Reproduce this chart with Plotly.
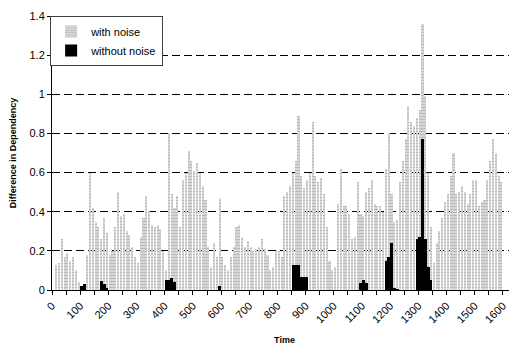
import plotly.graph_objects as go

# Time positions (step 10)
time = list(range(0, 1610, 10))

with_noise = [
    0.00, 0.13, 0.14, 0.26, 0.17, 0.19, 0.15, 0.17, 0.10, 0.04,   # 0-90
    0.02, 0.03, 0.18, 0.60, 0.42, 0.35, 0.32, 0.26, 0.37, 0.29,   # 100-190
    0.18, 0.20, 0.32, 0.50, 0.38, 0.39, 0.30, 0.28, 0.22, 0.17,   # 200-290
    0.14, 0.27, 0.37, 0.48, 0.41, 0.33, 0.32, 0.33, 0.31, 0.20,   # 300-390
    0.10, 0.80, 0.49, 0.42, 0.48, 0.32, 0.56, 0.60, 0.71, 0.66,   # 400-490
    0.61, 0.65, 0.60, 0.53, 0.46, 0.22, 0.12, 0.24, 0.17, 0.47,   # 500-590
    0.17, 0.13, 0.10, 0.17, 0.22, 0.32, 0.33, 0.27, 0.22, 0.25,   # 600-690
    0.22, 0.20, 0.21, 0.22, 0.26, 0.21, 0.18, 0.10, 0.12, 0.20,   # 700-790
    0.20, 0.17, 0.48, 0.50, 0.53, 0.60, 0.66, 0.89, 0.58, 0.52,   # 800-890
    0.56, 0.60, 0.86, 0.58, 0.55, 0.57, 0.49, 0.32, 0.15, 0.10,   # 900-990
    0.12, 0.44, 0.62, 0.43, 0.43, 0.39, 0.26, 0.27, 0.55, 0.39,   # 1000-1090
    0.38, 0.50, 0.52, 0.56, 0.44, 0.43, 0.43, 0.40, 0.62, 0.80,   # 1100-1190
    0.49, 0.35, 0.36, 0.55, 0.66, 0.77, 0.94, 0.86, 0.84, 0.88,   # 1200-1290
    0.92, 1.36, 0.99, 0.60, 0.32, 0.14, 0.24, 0.30, 0.37, 0.45,   # 1300-1390
    0.49, 0.58, 0.70, 0.49, 0.50, 0.53, 0.50, 0.44, 0.49, 0.56,   # 1400-1490
    0.56, 0.43, 0.45, 0.46, 0.56, 0.66, 0.77, 0.70, 0.58, 0.55,   # 1500-1590
    0.00,                                                         # 1600
]

without_noise = [0.0] * len(time)
nonzero = {
    100: 0.02, 110: 0.03,
    170: 0.045, 180: 0.03, 190: 0.01,
    400: 0.05, 410: 0.05, 420: 0.06, 430: 0.04,
    590: 0.02,
    850: 0.13, 860: 0.13, 870: 0.13, 880: 0.065, 890: 0.065, 900: 0.065,
    1090: 0.035, 1100: 0.05, 1110: 0.035,
    1180: 0.15, 1190: 0.17, 1200: 0.24, 1210: 0.01, 1220: 0.005,
    1290: 0.26, 1300: 0.27, 1310: 0.77, 1320: 0.26, 1330: 0.12, 1340: 0.05,
}
for t, v in nonzero.items():
    without_noise[time.index(t)] = v

x_ticks = list(range(0, 1700, 100))
y_ticks = [0, 0.2, 0.4, 0.6, 0.8, 1.0, 1.2, 1.4]

FONT = "Liberation Sans, Arial, sans-serif"

fig = go.Figure()
fig.add_trace(go.Bar(
    x=time, y=with_noise, name="with noise", width=7.5, offset=1,
    marker=dict(color="#c4c4c4", line=dict(width=0),
                pattern=dict(shape="-", fgcolor="#9a9a9a", bgcolor="#dadada",
                             size=3, solidity=0.4)),
))
fig.add_trace(go.Bar(
    x=time, y=without_noise, name="without noise", width=10, offset=0,
    marker=dict(color="black", line=dict(width=0)),
))

# page body has an 8px margin, so the figure is sized 509x337 and offset accordingly
fig.update_layout(
    width=509, height=337,
    margin=dict(l=44, r=0, t=8, b=55),
    barmode="overlay", bargap=0,
    plot_bgcolor="white", paper_bgcolor="white",
    font=dict(family=FONT, size=11, color="black"),
    showlegend=True,
    legend=dict(x=-0.004, y=1, xanchor="left", yanchor="top",
                bgcolor="white", bordercolor="#404040", borderwidth=1,
                font=dict(size=11), tracegroupgap=0, itemwidth=30),
)
fig.update_xaxes(
    range=[0, 1650], tickvals=x_ticks, ticktext=[str(v) for v in x_ticks],
    tickangle=-45, ticks="outside", ticklen=4, tickcolor="black",
    showline=True, linecolor="black", linewidth=1, showgrid=False, zeroline=False,
    minor=dict(dtick=50, tick0=0, ticks="outside", ticklen=4, tickcolor="black", showgrid=False),
    title=dict(text="<b>Time</b>", font=dict(size=9), standoff=14),
    tickfont=dict(size=11), automargin=False,
)
fig.update_yaxes(
    range=[0, 1.4], tickvals=y_ticks, ticktext=["0", "0.2", "0.4", "0.6", "0.8", "1", "1.2", "1.4"],
    ticks="outside", ticklen=4, tickcolor="black",
    showline=True, linecolor="black", linewidth=1,
    showgrid=True, gridcolor="black", gridwidth=1, griddash="8px,4px", zeroline=False,
    title=dict(text="<b>Difference in Dependency</b>", font=dict(size=9), standoff=11),
    tickfont=dict(size=11), automargin=False,
)

fig.write_html("out.html")
